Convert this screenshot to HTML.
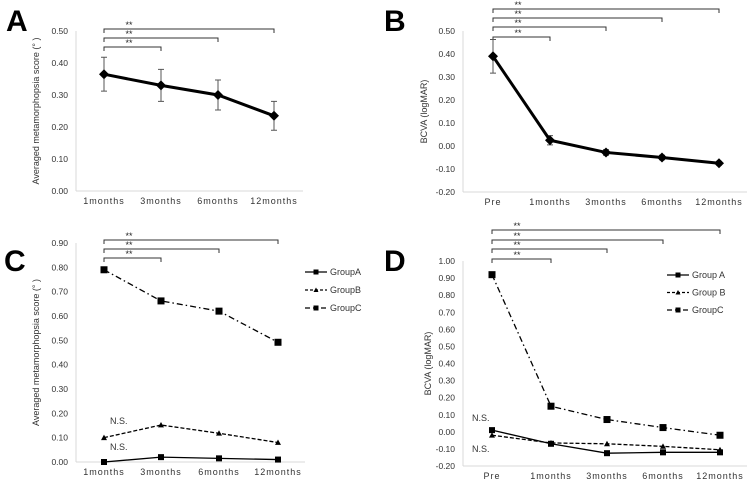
<!DOCTYPE html>
<html><head><meta charset="utf-8"><style>
body{margin:0;background:#fff}
svg{display:block;font-family:"Liberation Sans",sans-serif}
</style></head><body>
<svg id="s" width="750" height="479" viewBox="0 0 750 479">
<text x="6" y="31" font-size="30" font-weight="bold">A</text>
<text x="384" y="31" font-size="30" font-weight="bold">B</text>
<text x="4" y="271" font-size="30" font-weight="bold">C</text>
<text x="384" y="271" font-size="30" font-weight="bold">D</text>
</svg>
<script>
const catsA=["1months","3months","6months","12months"];
const valsA=[0.365,0.33,0.30,0.235];
const errA=[0.053,0.05,0.047,0.045];
const catsB=["Pre","1months","3months","6months","12months"];
const valsB=[0.39,0.025,-0.028,-0.05,-0.075];
const errB=[0.073,0.02,0.012,0.01,0.008];
const ticksA=[0,0.1,0.2,0.3,0.4,0.5];
const ticksB=[-0.2,-0.1,0,0.1,0.2,0.3,0.4,0.5];
const ticksC=[0,0.1,0.2,0.3,0.4,0.5,0.6,0.7,0.8,0.9];
const ticksD=[-0.2,-0.1,0,0.1,0.2,0.3,0.4,0.5,0.6,0.7,0.8,0.9,1.0];
const cA=[0,0.02,0.015,0.01];
const cB=[0.10,0.152,0.118,0.08];
const cC=[0.79,0.662,0.62,0.492];
const dA=[0.01,-0.07,-0.125,-0.12,-0.12];
const dB=[-0.02,-0.065,-0.07,-0.085,-0.105];
const dC=[0.92,0.15,0.072,0.025,-0.02];
const S=document.getElementById('s');const NS='http://www.w3.org/2000/svg';
function el(t,a,txt){const e=document.createElementNS(NS,t);for(const k in a)e.setAttribute(k,a[k]);if(txt!==undefined)e.textContent=txt;S.appendChild(e);return e;}
function panel(p){
 const y=v=>p.y0+(v-p.vmin)/(p.vmax-p.vmin)*(p.y1-p.y0);
 const x=i=>p.xs[i];
 let e=el('line',{x1:p.ax,y1:p.y1,x2:p.ax,y2:p.y0,stroke:'#d8d8d8','stroke-width':1});
 
 
 e=el('line',{x1:p.ax,y1:p.y0,x2:p.axEnd,y2:p.y0,stroke:'#d8d8d8','stroke-width':1});
 
 
 p.ticks.forEach(t=>{
  e=el('text',{x:p.ax-8,y:y(t)+3,'font-size':8.5,'text-anchor':'end',fill:'#333'},t.toFixed(2));
  
  
 });
 p.cats.forEach((c,i)=>{
  e=el('text',{x:x(i),y:p.y0+13,'font-size':9,'text-anchor':'middle',fill:'#333','letter-spacing':'1'},c);
  
  
 });
 e=el('text',{x:0,y:0,'font-size':9,'text-anchor':'middle',fill:'#333',transform:`translate(${p.tx},${(p.y0+p.y1)/2}) rotate(-90)`},p.title);
 
 
 p.brackets.forEach(b=>{
  e=el('path',{d:`M${x(0)},${b[1]+4}V${b[1]}H${x(b[0])}V${b[1]+4}`,fill:'none',stroke:'#333','stroke-width':1});
  
  
  e=el('text',{x:x(0)+25,y:b[1]-1,'font-size':9,'text-anchor':'middle',fill:'#222'},'**');
  
  
 });
 return {x,y};
}
function marker(type,cx,cy,s,name){
 let e;
 if(type==='d')e=el('path',{d:`M${cx},${cy-s}L${cx+s},${cy}L${cx},${cy+s}L${cx-s},${cy}Z`,fill:'#000'});
 else if(type==='s')e=el('rect',{x:cx-s,y:cy-s,width:2*s,height:2*s,fill:'#000'});
 else e=el('path',{d:`M${cx},${cy-s}L${cx+s},${cy+s*0.8}L${cx-s},${cy+s*0.8}Z`,fill:'#000'});
 
 
}
function series(P,vals,dash,w,mk,ms,name){
 const d=vals.map((v,i)=>(i?'L':'M')+P.x(i)+','+P.y(v)).join('');
 let e=el('path',{d,fill:'none',stroke:'#000','stroke-width':w,'stroke-dasharray':dash});
 
 
 vals.forEach((v,i)=>marker(mk,P.x(i),P.y(v),ms,name+'-point'));
}
function errs(P,vals,er,name){
 vals.forEach((v,i)=>{
  const a=P.y(v+er[i]),b=P.y(v-er[i]),cx=P.x(i);
  let e=el('path',{d:`M${cx},${a}V${b}M${cx-3},${a}H${cx+3}M${cx-3},${b}H${cx+3}`,stroke:'#555','stroke-width':1,fill:'none'});
  
  
 });
}
function legend(items,lx,ly,gap,id){
 items.forEach((it,i)=>{
  const yy=ly+i*gap;
  let e=el('line',{x1:lx,y1:yy,x2:lx+22,y2:yy,stroke:'#000','stroke-width':1.3,'stroke-dasharray':it[1]});
  
  
  marker(it[2],lx+11,yy,2.5,id+'-legend-marker');
  e=el('text',{x:lx+25,y:yy+3,'font-size':9,fill:'#333'},it[0]);
  
  
 });
}
const PA=panel({id:'a',cats:catsA,ticks:ticksA,vmin:0,vmax:0.5,y0:191,y1:31,ax:76,axEnd:303,xs:[104,161,218,274],tx:39,title:'Averaged metamorphopsia score (° )',brackets:[[1,47],[2,38],[3,29]]});
errs(PA,valsA,errA,'a');series(PA,valsA,'',3,'d',5,'a-series');
const PB=panel({id:'b',cats:catsB,ticks:ticksB,vmin:-0.2,vmax:0.5,y0:192,y1:31,ax:463,axEnd:747,xs:[493,550,606,662,719],tx:427,title:'BCVA (logMAR)',brackets:[[1,37],[2,27],[3,18],[4,9]]});
errs(PB,valsB,errB,'b');series(PB,valsB,'',3,'d',5,'b-series');
const PC=panel({id:'c',cats:catsA,ticks:ticksC,vmin:0,vmax:0.9,y0:462,y1:243,ax:76,axEnd:305,xs:[104,161,219,278],tx:39,title:'Averaged metamorphopsia score (° )',brackets:[[1,258],[2,249],[3,240]]});
series(PC,cC,'6,3,1.5,3',1.3,'s',3.5,'c-groupc');series(PC,cB,'4,2',1.3,'t',3,'c-groupb');series(PC,cA,'',1.3,'s',3,'c-groupa');
legend([['GroupA','','s'],['GroupB','3,2','t'],['GroupC','5,3','s']],305,272,18,'c');
let t=el('text',{x:110,y:424,'font-size':9,fill:'#333'},'N.S.');
t=el('text',{x:110,y:450,'font-size':9,fill:'#333'},'N.S.');
const PD=panel({id:'d',cats:catsB,ticks:ticksD,vmin:-0.2,vmax:1.0,y0:466,y1:261,ax:463,axEnd:747,xs:[492,551,607,663,720],tx:431,title:'BCVA (logMAR)',brackets:[[1,259],[2,249],[3,240],[4,230]]});
series(PD,dC,'6,3,1.5,3',1.3,'s',3.5,'d-groupc');series(PD,dB,'4,2',1.3,'t',3,'d-groupb');series(PD,dA,'',1.3,'s',3,'d-groupa');
legend([['Group A','','s'],['Group B','3,2','t'],['GroupC','5,3','s']],667,275,17.5,'d');
t=el('text',{x:472,y:421,'font-size':9,fill:'#333'},'N.S.');
t=el('text',{x:472,y:452,'font-size':9,fill:'#333'},'N.S.');
</script>
</body></html>
